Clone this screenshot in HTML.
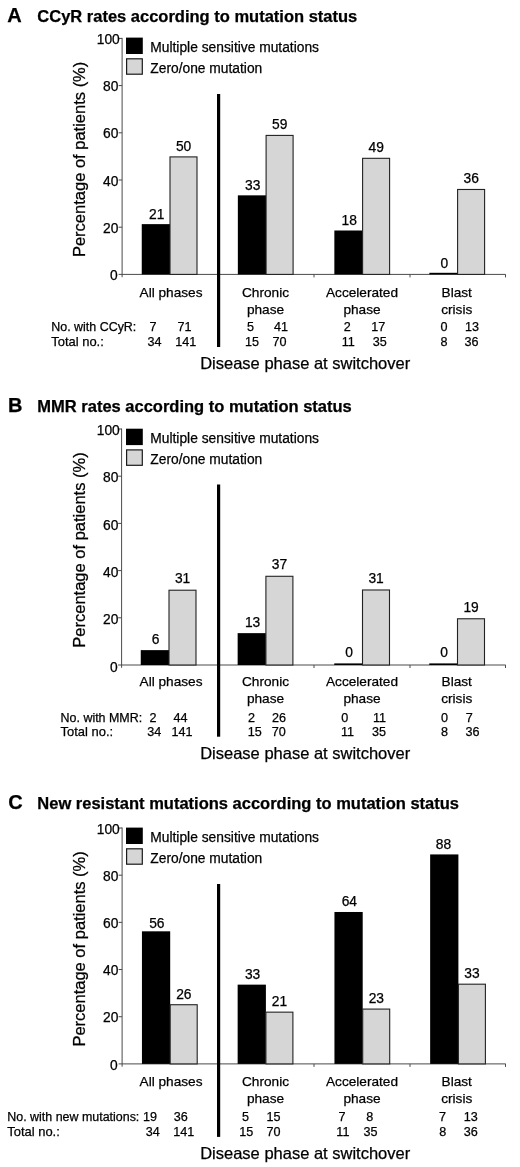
<!DOCTYPE html>
<html lang="en">
<head>
<meta charset="utf-8">
<title>Response rates according to mutation status</title>
<style>
html,body{margin:0;padding:0;background:#fff;}
body{width:520px;height:1167px;overflow:hidden;}
svg{display:block;font-family:"Liberation Sans", Arial, sans-serif;}
text{fill:#000;stroke:#000;stroke-width:0.25px;}
</style>
</head>
<body>
<svg width="520" height="1167" viewBox="0 0 520 1167">
<rect x="0" y="0" width="520" height="1167" fill="#ffffff"/>
<text x="7.3" y="21.50" font-size="20" font-weight="bold">A</text>
<text x="37.3" y="21.50" font-size="16.5" font-weight="bold">CCyR rates according to mutation status</text>
<text transform="translate(84.50,159.40) rotate(-90)" text-anchor="middle" font-size="16.5">Percentage of patients (%)</text>
<line x1="122.10" y1="37.90" x2="122.10" y2="277.20" stroke="#4a4a4a" stroke-width="1"/>
<line x1="118.60" y1="274.40" x2="505.70" y2="274.40" stroke="#4a4a4a" stroke-width="1"/>
<line x1="118.60" y1="38.40" x2="122.10" y2="38.40" stroke="#4a4a4a" stroke-width="1"/>
<text x="119.80" y="44.00" text-anchor="end" font-size="13.8">100</text>
<line x1="118.60" y1="85.60" x2="122.10" y2="85.60" stroke="#4a4a4a" stroke-width="1"/>
<text x="118.40" y="91.20" text-anchor="end" font-size="13.8">80</text>
<line x1="118.60" y1="132.80" x2="122.10" y2="132.80" stroke="#4a4a4a" stroke-width="1"/>
<text x="118.40" y="138.40" text-anchor="end" font-size="13.8">60</text>
<line x1="118.60" y1="180.00" x2="122.10" y2="180.00" stroke="#4a4a4a" stroke-width="1"/>
<text x="118.40" y="185.60" text-anchor="end" font-size="13.8">40</text>
<line x1="118.60" y1="227.20" x2="122.10" y2="227.20" stroke="#4a4a4a" stroke-width="1"/>
<text x="118.40" y="232.80" text-anchor="end" font-size="13.8">20</text>
<text x="117.60" y="280.30" text-anchor="end" font-size="13.8">0</text>
<line x1="314.00" y1="274.40" x2="314.00" y2="277.40" stroke="#4a4a4a" stroke-width="1"/>
<line x1="410.00" y1="274.40" x2="410.00" y2="277.40" stroke="#4a4a4a" stroke-width="1"/>
<line x1="505.50" y1="274.40" x2="505.50" y2="277.40" stroke="#4a4a4a" stroke-width="1"/>
<rect x="126" y="37.60" width="16.8" height="16.4" fill="#000"/>
<rect x="126.6" y="58.80" width="15.7" height="15.4" fill="#d6d6d6" stroke="#1a1a1a" stroke-width="1.2"/>
<text x="150.3" y="51.60" font-size="13.8">Multiple sensitive mutations</text>
<text x="150.3" y="72.50" font-size="13.8">Zero/one mutation</text>
<rect x="141.75" y="224.13" width="28.25" height="50.27" fill="#000"/>
<rect x="170.00" y="156.90" width="27.00" height="117.50" fill="#d6d6d6" stroke="#222" stroke-width="1.1"/>
<text x="156.68" y="218.53" text-anchor="middle" font-size="13.8">21</text>
<text x="183.62" y="150.80" text-anchor="middle" font-size="13.8">50</text>
<rect x="237.85" y="195.34" width="28.25" height="79.06" fill="#000"/>
<rect x="266.10" y="135.42" width="27.00" height="138.98" fill="#d6d6d6" stroke="#222" stroke-width="1.1"/>
<text x="252.78" y="189.74" text-anchor="middle" font-size="13.8">33</text>
<text x="279.73" y="129.32" text-anchor="middle" font-size="13.8">59</text>
<rect x="334.35" y="230.50" width="28.25" height="43.90" fill="#000"/>
<rect x="362.60" y="158.32" width="27.00" height="116.08" fill="#d6d6d6" stroke="#222" stroke-width="1.1"/>
<text x="349.28" y="224.90" text-anchor="middle" font-size="13.8">18</text>
<text x="376.23" y="152.22" text-anchor="middle" font-size="13.8">49</text>
<rect x="429.35" y="272.80" width="28.25" height="1.6" fill="#000"/>
<rect x="457.60" y="189.47" width="27.00" height="84.93" fill="#d6d6d6" stroke="#222" stroke-width="1.1"/>
<text x="444.28" y="267.80" text-anchor="middle" font-size="13.8">0</text>
<text x="471.23" y="183.37" text-anchor="middle" font-size="13.8">36</text>
<rect x="217.00" y="94.00" width="3.2" height="253.00" fill="#000"/>
<text x="171.00" y="296.60" text-anchor="middle" font-size="13.65">All phases</text>
<text x="265.50" y="296.60" text-anchor="middle" font-size="13.65">Chronic</text>
<text x="265.50" y="313.60" text-anchor="middle" font-size="13.65">phase</text>
<text x="362.00" y="296.60" text-anchor="middle" font-size="13.65">Accelerated</text>
<text x="362.00" y="313.60" text-anchor="middle" font-size="13.65">phase</text>
<text x="456.75" y="296.60" text-anchor="middle" font-size="13.65">Blast</text>
<text x="456.75" y="313.60" text-anchor="middle" font-size="13.65">crisis</text>
<text x="51.3" y="331.10" font-size="12.45">No. with CCyR:</text>
<text x="51.3" y="345.70" font-size="12.95">Total no.:</text>
<text x="153.10" y="331.10" text-anchor="middle" font-size="12.6">7</text>
<text x="184.40" y="331.10" text-anchor="middle" font-size="12.6">71</text>
<text x="250.40" y="331.10" text-anchor="middle" font-size="12.6">5</text>
<text x="281.00" y="331.10" text-anchor="middle" font-size="12.6">41</text>
<text x="347.30" y="331.10" text-anchor="middle" font-size="12.6">2</text>
<text x="378.30" y="331.10" text-anchor="middle" font-size="12.6">17</text>
<text x="443.90" y="331.10" text-anchor="middle" font-size="12.6">0</text>
<text x="471.90" y="331.10" text-anchor="middle" font-size="12.6">13</text>
<text x="154.60" y="345.70" text-anchor="middle" font-size="12.6">34</text>
<text x="185.80" y="345.70" text-anchor="middle" font-size="12.6">141</text>
<text x="252.00" y="345.70" text-anchor="middle" font-size="12.6">15</text>
<text x="279.40" y="345.70" text-anchor="middle" font-size="12.6">70</text>
<text x="348.30" y="345.70" text-anchor="middle" font-size="12.6">11</text>
<text x="379.70" y="345.70" text-anchor="middle" font-size="12.6">35</text>
<text x="443.90" y="345.70" text-anchor="middle" font-size="12.6">8</text>
<text x="471.50" y="345.70" text-anchor="middle" font-size="12.6">36</text>
<text x="200.20" y="369.40" font-size="16.5">Disease phase at switchover</text>
<text x="8.1" y="411.50" font-size="20" font-weight="bold">B</text>
<text x="37.3" y="411.50" font-size="16.5" font-weight="bold">MMR rates according to mutation status</text>
<text transform="translate(84.50,550.00) rotate(-90)" text-anchor="middle" font-size="16.5">Percentage of patients (%)</text>
<line x1="121.60" y1="428.50" x2="121.60" y2="667.80" stroke="#4a4a4a" stroke-width="1"/>
<line x1="118.10" y1="665.00" x2="505.70" y2="665.00" stroke="#4a4a4a" stroke-width="1"/>
<line x1="118.10" y1="429.00" x2="121.60" y2="429.00" stroke="#4a4a4a" stroke-width="1"/>
<text x="119.80" y="435.20" text-anchor="end" font-size="13.8">100</text>
<line x1="118.10" y1="476.20" x2="121.60" y2="476.20" stroke="#4a4a4a" stroke-width="1"/>
<text x="118.40" y="482.40" text-anchor="end" font-size="13.8">80</text>
<line x1="118.10" y1="523.40" x2="121.60" y2="523.40" stroke="#4a4a4a" stroke-width="1"/>
<text x="118.40" y="529.60" text-anchor="end" font-size="13.8">60</text>
<line x1="118.10" y1="570.60" x2="121.60" y2="570.60" stroke="#4a4a4a" stroke-width="1"/>
<text x="118.40" y="576.80" text-anchor="end" font-size="13.8">40</text>
<line x1="118.10" y1="617.80" x2="121.60" y2="617.80" stroke="#4a4a4a" stroke-width="1"/>
<text x="118.40" y="624.00" text-anchor="end" font-size="13.8">20</text>
<text x="117.60" y="671.50" text-anchor="end" font-size="13.8">0</text>
<line x1="314.00" y1="665.00" x2="314.00" y2="668.00" stroke="#4a4a4a" stroke-width="1"/>
<line x1="410.00" y1="665.00" x2="410.00" y2="668.00" stroke="#4a4a4a" stroke-width="1"/>
<line x1="505.50" y1="665.00" x2="505.50" y2="668.00" stroke="#4a4a4a" stroke-width="1"/>
<rect x="126" y="428.70" width="16.8" height="16.4" fill="#000"/>
<rect x="126.6" y="449.90" width="15.7" height="15.4" fill="#d6d6d6" stroke="#1a1a1a" stroke-width="1.2"/>
<text x="150.3" y="442.70" font-size="13.8">Multiple sensitive mutations</text>
<text x="150.3" y="463.60" font-size="13.8">Zero/one mutation</text>
<rect x="140.75" y="650.13" width="28.25" height="14.87" fill="#000"/>
<rect x="169.00" y="590.22" width="27.00" height="74.78" fill="#d6d6d6" stroke="#222" stroke-width="1.1"/>
<text x="155.68" y="643.53" text-anchor="middle" font-size="13.8">6</text>
<text x="182.62" y="583.12" text-anchor="middle" font-size="13.8">31</text>
<rect x="237.65" y="633.14" width="28.25" height="31.86" fill="#000"/>
<rect x="265.90" y="576.29" width="27.00" height="88.71" fill="#d6d6d6" stroke="#222" stroke-width="1.1"/>
<text x="252.57" y="626.54" text-anchor="middle" font-size="13.8">13</text>
<text x="279.52" y="569.19" text-anchor="middle" font-size="13.8">37</text>
<rect x="334.25" y="663.40" width="28.25" height="1.6" fill="#000"/>
<rect x="362.50" y="589.98" width="27.00" height="75.02" fill="#d6d6d6" stroke="#222" stroke-width="1.1"/>
<text x="349.18" y="657.40" text-anchor="middle" font-size="13.8">0</text>
<text x="376.12" y="582.88" text-anchor="middle" font-size="13.8">31</text>
<rect x="429.25" y="663.40" width="28.25" height="1.6" fill="#000"/>
<rect x="457.50" y="618.77" width="27.00" height="46.23" fill="#d6d6d6" stroke="#222" stroke-width="1.1"/>
<text x="444.18" y="657.40" text-anchor="middle" font-size="13.8">0</text>
<text x="471.12" y="611.67" text-anchor="middle" font-size="13.8">19</text>
<rect x="217.00" y="484.50" width="3.2" height="252.20" fill="#000"/>
<text x="171.00" y="686.20" text-anchor="middle" font-size="13.65">All phases</text>
<text x="265.50" y="686.20" text-anchor="middle" font-size="13.65">Chronic</text>
<text x="265.50" y="703.20" text-anchor="middle" font-size="13.65">phase</text>
<text x="362.00" y="686.20" text-anchor="middle" font-size="13.65">Accelerated</text>
<text x="362.00" y="703.20" text-anchor="middle" font-size="13.65">phase</text>
<text x="456.75" y="686.20" text-anchor="middle" font-size="13.65">Blast</text>
<text x="456.75" y="703.20" text-anchor="middle" font-size="13.65">crisis</text>
<text x="60.6" y="721.50" font-size="12.45">No. with MMR:</text>
<text x="60.6" y="735.90" font-size="12.95">Total no.:</text>
<text x="153.00" y="721.50" text-anchor="middle" font-size="12.6">2</text>
<text x="180.60" y="721.50" text-anchor="middle" font-size="12.6">44</text>
<text x="251.50" y="721.50" text-anchor="middle" font-size="12.6">2</text>
<text x="279.00" y="721.50" text-anchor="middle" font-size="12.6">26</text>
<text x="344.70" y="721.50" text-anchor="middle" font-size="12.6">0</text>
<text x="379.60" y="721.50" text-anchor="middle" font-size="12.6">11</text>
<text x="444.50" y="721.50" text-anchor="middle" font-size="12.6">0</text>
<text x="469.20" y="721.50" text-anchor="middle" font-size="12.6">7</text>
<text x="154.30" y="735.90" text-anchor="middle" font-size="12.6">34</text>
<text x="182.10" y="735.90" text-anchor="middle" font-size="12.6">141</text>
<text x="254.80" y="735.90" text-anchor="middle" font-size="12.6">15</text>
<text x="278.80" y="735.90" text-anchor="middle" font-size="12.6">70</text>
<text x="347.60" y="735.90" text-anchor="middle" font-size="12.6">11</text>
<text x="379.00" y="735.90" text-anchor="middle" font-size="12.6">35</text>
<text x="444.50" y="735.90" text-anchor="middle" font-size="12.6">8</text>
<text x="472.50" y="735.90" text-anchor="middle" font-size="12.6">36</text>
<text x="200.20" y="759.30" font-size="16.5">Disease phase at switchover</text>
<text x="8.3" y="809.00" font-size="20" font-weight="bold">C</text>
<text x="37.3" y="809.00" font-size="16.5" font-weight="bold">New resistant mutations according to mutation status</text>
<text transform="translate(84.50,948.95) rotate(-90)" text-anchor="middle" font-size="16.5">Percentage of patients (%)</text>
<line x1="122.10" y1="827.50" x2="122.10" y2="1066.70" stroke="#4a4a4a" stroke-width="1"/>
<line x1="118.60" y1="1063.90" x2="505.70" y2="1063.90" stroke="#4a4a4a" stroke-width="1"/>
<line x1="118.60" y1="828.00" x2="122.10" y2="828.00" stroke="#4a4a4a" stroke-width="1"/>
<text x="119.80" y="833.60" text-anchor="end" font-size="13.8">100</text>
<line x1="118.60" y1="875.18" x2="122.10" y2="875.18" stroke="#4a4a4a" stroke-width="1"/>
<text x="118.40" y="880.78" text-anchor="end" font-size="13.8">80</text>
<line x1="118.60" y1="922.36" x2="122.10" y2="922.36" stroke="#4a4a4a" stroke-width="1"/>
<text x="118.40" y="927.96" text-anchor="end" font-size="13.8">60</text>
<line x1="118.60" y1="969.54" x2="122.10" y2="969.54" stroke="#4a4a4a" stroke-width="1"/>
<text x="118.40" y="975.14" text-anchor="end" font-size="13.8">40</text>
<line x1="118.60" y1="1016.72" x2="122.10" y2="1016.72" stroke="#4a4a4a" stroke-width="1"/>
<text x="118.40" y="1022.32" text-anchor="end" font-size="13.8">20</text>
<text x="117.60" y="1069.80" text-anchor="end" font-size="13.8">0</text>
<line x1="314.00" y1="1063.90" x2="314.00" y2="1066.90" stroke="#4a4a4a" stroke-width="1"/>
<line x1="410.00" y1="1063.90" x2="410.00" y2="1066.90" stroke="#4a4a4a" stroke-width="1"/>
<line x1="505.50" y1="1063.90" x2="505.50" y2="1066.90" stroke="#4a4a4a" stroke-width="1"/>
<rect x="126" y="827.60" width="16.8" height="16.4" fill="#000"/>
<rect x="126.6" y="848.80" width="15.7" height="15.4" fill="#d6d6d6" stroke="#1a1a1a" stroke-width="1.2"/>
<text x="150.3" y="841.60" font-size="13.8">Multiple sensitive mutations</text>
<text x="150.3" y="862.50" font-size="13.8">Zero/one mutation</text>
<rect x="141.95" y="931.32" width="28.25" height="132.58" fill="#000"/>
<rect x="170.20" y="1004.72" width="27.00" height="59.18" fill="#d6d6d6" stroke="#222" stroke-width="1.1"/>
<text x="156.88" y="927.52" text-anchor="middle" font-size="13.8">56</text>
<text x="183.82" y="998.62" text-anchor="middle" font-size="13.8">26</text>
<rect x="237.65" y="984.64" width="28.25" height="79.26" fill="#000"/>
<rect x="265.90" y="1012.15" width="27.00" height="51.75" fill="#d6d6d6" stroke="#222" stroke-width="1.1"/>
<text x="252.57" y="979.04" text-anchor="middle" font-size="13.8">33</text>
<text x="279.52" y="1006.05" text-anchor="middle" font-size="13.8">21</text>
<rect x="334.45" y="911.98" width="28.25" height="151.92" fill="#000"/>
<rect x="362.70" y="1009.08" width="27.00" height="54.82" fill="#d6d6d6" stroke="#222" stroke-width="1.1"/>
<text x="349.38" y="906.38" text-anchor="middle" font-size="13.8">64</text>
<text x="376.32" y="1002.98" text-anchor="middle" font-size="13.8">23</text>
<rect x="430.15" y="854.42" width="28.25" height="209.48" fill="#000"/>
<rect x="458.40" y="984.19" width="27.00" height="79.71" fill="#d6d6d6" stroke="#222" stroke-width="1.1"/>
<text x="443.47" y="848.82" text-anchor="middle" font-size="13.8">88</text>
<text x="472.02" y="978.09" text-anchor="middle" font-size="13.8">33</text>
<rect x="217.00" y="884.00" width="3.2" height="252.90" fill="#000"/>
<text x="171.00" y="1086.40" text-anchor="middle" font-size="13.65">All phases</text>
<text x="265.50" y="1086.40" text-anchor="middle" font-size="13.65">Chronic</text>
<text x="265.50" y="1103.40" text-anchor="middle" font-size="13.65">phase</text>
<text x="362.00" y="1086.40" text-anchor="middle" font-size="13.65">Accelerated</text>
<text x="362.00" y="1103.40" text-anchor="middle" font-size="13.65">phase</text>
<text x="456.75" y="1086.40" text-anchor="middle" font-size="13.65">Blast</text>
<text x="456.75" y="1103.40" text-anchor="middle" font-size="13.65">crisis</text>
<text x="7.3" y="1121.10" font-size="12.45">No. with new mutations:</text>
<text x="7.3" y="1135.80" font-size="12.95">Total no.:</text>
<text x="150.10" y="1121.10" text-anchor="middle" font-size="12.6">19</text>
<text x="180.80" y="1121.10" text-anchor="middle" font-size="12.6">36</text>
<text x="245.50" y="1121.10" text-anchor="middle" font-size="12.6">5</text>
<text x="273.40" y="1121.10" text-anchor="middle" font-size="12.6">15</text>
<text x="341.90" y="1121.10" text-anchor="middle" font-size="12.6">7</text>
<text x="369.70" y="1121.10" text-anchor="middle" font-size="12.6">8</text>
<text x="442.50" y="1121.10" text-anchor="middle" font-size="12.6">7</text>
<text x="470.70" y="1121.10" text-anchor="middle" font-size="12.6">13</text>
<text x="152.70" y="1135.80" text-anchor="middle" font-size="12.6">34</text>
<text x="183.75" y="1135.80" text-anchor="middle" font-size="12.6">141</text>
<text x="246.25" y="1135.80" text-anchor="middle" font-size="12.6">15</text>
<text x="273.60" y="1135.80" text-anchor="middle" font-size="12.6">70</text>
<text x="342.90" y="1135.80" text-anchor="middle" font-size="12.6">11</text>
<text x="370.60" y="1135.80" text-anchor="middle" font-size="12.6">35</text>
<text x="442.80" y="1135.80" text-anchor="middle" font-size="12.6">8</text>
<text x="470.80" y="1135.80" text-anchor="middle" font-size="12.6">36</text>
<text x="200.20" y="1158.60" font-size="16.5">Disease phase at switchover</text>
</svg>
</body>
</html>
